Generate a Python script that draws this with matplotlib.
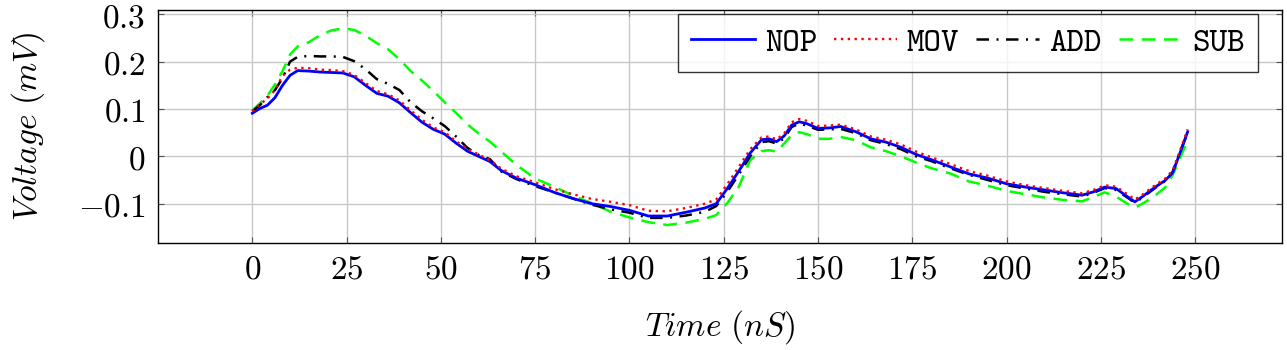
import matplotlib
matplotlib.use("Agg")
import matplotlib.pyplot as plt

# ---- data ----
time_ns = [0, 2, 4, 6, 8, 10, 12, 15, 18, 21, 24, 27, 30, 33, 36, 39, 42, 45, 48, 51,
           54, 57, 60, 63, 66, 70, 75, 80, 85, 90, 95, 100, 105, 110, 115, 120, 123, 126,
           129, 132, 135, 137, 139, 141, 143, 145, 147, 150, 153, 156, 160, 164, 168, 172,
           176, 180, 185, 190, 195, 200, 205, 210, 215, 220, 223, 226, 229, 232, 234, 236,
           239, 242, 244, 246, 248]

nop = [0.091, 0.101, 0.108, 0.124, 0.150, 0.171, 0.181, 0.180, 0.178, 0.177, 0.176, 0.168,
       0.150, 0.133, 0.127, 0.113, 0.092, 0.072, 0.057, 0.047, 0.028, 0.011, 0.000, -0.011,
       -0.030, -0.046, -0.060, -0.076, -0.089, -0.100, -0.106, -0.114, -0.126, -0.126,
       -0.118, -0.109, -0.100, -0.067, -0.031, 0.007, 0.035, 0.037, 0.031, 0.043, 0.066,
       0.073, 0.069, 0.059, 0.060, 0.063, 0.052, 0.037, 0.030, 0.019, 0.004, -0.007, -0.022,
       -0.037, -0.046, -0.058, -0.065, -0.071, -0.077, -0.082, -0.075, -0.065, -0.068,
       -0.085, -0.096, -0.085, -0.067, -0.051, -0.035, 0.008, 0.052]

mov = [0.095, 0.110, 0.122, 0.140, 0.170, 0.183, 0.187, 0.186, 0.183, 0.182, 0.180, 0.172,
       0.155, 0.138, 0.131, 0.118, 0.097, 0.077, 0.061, 0.051, 0.032, 0.016, 0.004, -0.008,
       -0.026, -0.042, -0.055, -0.069, -0.080, -0.090, -0.096, -0.103, -0.115, -0.116,
       -0.109, -0.100, -0.091, -0.058, -0.022, 0.015, 0.040, 0.042, 0.036, 0.048, 0.072,
       0.079, 0.075, 0.064, 0.065, 0.067, 0.057, 0.042, 0.035, 0.025, 0.010, -0.002, -0.016,
       -0.031, -0.041, -0.053, -0.061, -0.067, -0.073, -0.078, -0.071, -0.061, -0.064,
       -0.080, -0.091, -0.081, -0.063, -0.047, -0.030, 0.013, 0.057]

add = [0.095, 0.108, 0.125, 0.140, 0.165, 0.200, 0.210, 0.212, 0.211, 0.211, 0.210, 0.201,
       0.184, 0.163, 0.153, 0.140, 0.114, 0.095, 0.080, 0.064, 0.042, 0.018, 0.003, -0.006,
       -0.032, -0.048, -0.063, -0.076, -0.089, -0.102, -0.112, -0.119, -0.130, -0.130,
       -0.125, -0.117, -0.105, -0.074, -0.038, 0.000, 0.030, 0.032, 0.027, 0.038, 0.062,
       0.069, 0.065, 0.056, 0.057, 0.058, 0.049, 0.034, 0.026, 0.015, 0.000, -0.010, -0.025,
       -0.039, -0.050, -0.061, -0.068, -0.075, -0.080, -0.085, -0.077, -0.067, -0.071,
       -0.087, -0.098, -0.087, -0.069, -0.052, -0.033, 0.010, 0.050]

sub = [0.097, 0.112, 0.128, 0.152, 0.180, 0.215, 0.232, 0.241, 0.256, 0.266, 0.270, 0.267,
       0.255, 0.239, 0.226, 0.205, 0.180, 0.160, 0.138, 0.114, 0.092, 0.068, 0.048, 0.031,
       0.010, -0.018, -0.047, -0.064, -0.083, -0.099, -0.117, -0.129, -0.139, -0.145,
       -0.140, -0.132, -0.124, -0.098, -0.064, -0.008, 0.011, 0.013, 0.010, 0.027, 0.045,
       0.051, 0.047, 0.037, 0.037, 0.041, 0.034, 0.019, 0.011, 0.000, -0.013, -0.025, -0.036,
       -0.053, -0.062, -0.073, -0.080, -0.087, -0.092, -0.095, -0.086, -0.076, -0.085,
       -0.100, -0.108, -0.100, -0.085, -0.066, -0.040, -0.003, 0.034]

series_names = ["NOP", "MOV", "ADD", "SUB"]
xticks = [0, 25, 50, 75, 100, 125, 150, 175, 200, 225, 250]
yticks = [-0.1, 0, 0.1, 0.2, 0.3]
yticklabels = ["$-0.1$", "$0$", "$0.1$", "$0.2$", "$0.3$"]
xlabel = r"$Time\ (nS)$"
ylabel = r"$Voltage\ (mV)$"

# ---- figure ----
plt.rcParams["mathtext.fontset"] = "cm"
plt.rcParams["axes.unicode_minus"] = True

FS = 24

fig = plt.figure(figsize=(12.87, 3.5), dpi=100)
ax = fig.add_axes([0.1228, 0.3057, 0.8733, 0.6657])

ax.plot(time_ns, nop, color="#0000ff", lw=2.0, ls="-", label=series_names[0], zorder=3)
ax.plot(time_ns, mov, color="#ff0000", lw=1.7, ls=(0, (1.0, 1.9)), label=series_names[1], zorder=4)
ax.plot(time_ns, add, color="black", lw=1.8, ls=(0, (5.0, 3.0, 0.8, 3.0)), label=series_names[2], zorder=2)
ax.plot(time_ns, sub, color="#00ff00", lw=1.8, ls=(0, (5.5, 3.4)), label=series_names[3], zorder=1)

ax.set_xlim(-25, 273)
ax.set_ylim(-0.183, 0.309)
ax.set_xticks(xticks)
ax.set_xticklabels([f"${t}$" for t in xticks])
ax.set_yticks(yticks)
ax.set_yticklabels(yticklabels)
ax.tick_params(direction="in", top=True, right=True, length=4, width=0.8,
               labelsize=FS, color="#555555")
ax.tick_params(axis="x", pad=7)
ax.tick_params(axis="y", pad=9)
ax.grid(True, color="#c8c8c8", lw=1.0)
ax.set_axisbelow(True)
for s in ax.spines.values():
    s.set_linewidth(1.0)
    s.set_color("black")

ax.set_xlabel(xlabel, fontsize=FS, labelpad=16)
ax.set_ylabel(ylabel, fontsize=FS, labelpad=22)

leg = ax.legend(loc="upper right", ncol=4, frameon=True, fancybox=False,
                prop={"family": "cmtt10", "size": FS}, handlelength=1.9,
                handletextpad=0.3, columnspacing=0.5, borderpad=0.4,
                bbox_to_anchor=(0.9786, 0.983), borderaxespad=0.0)
leg.get_frame().set_edgecolor("black")
leg.get_frame().set_linewidth(1.0)

fig.savefig("out.png", dpi=100)
